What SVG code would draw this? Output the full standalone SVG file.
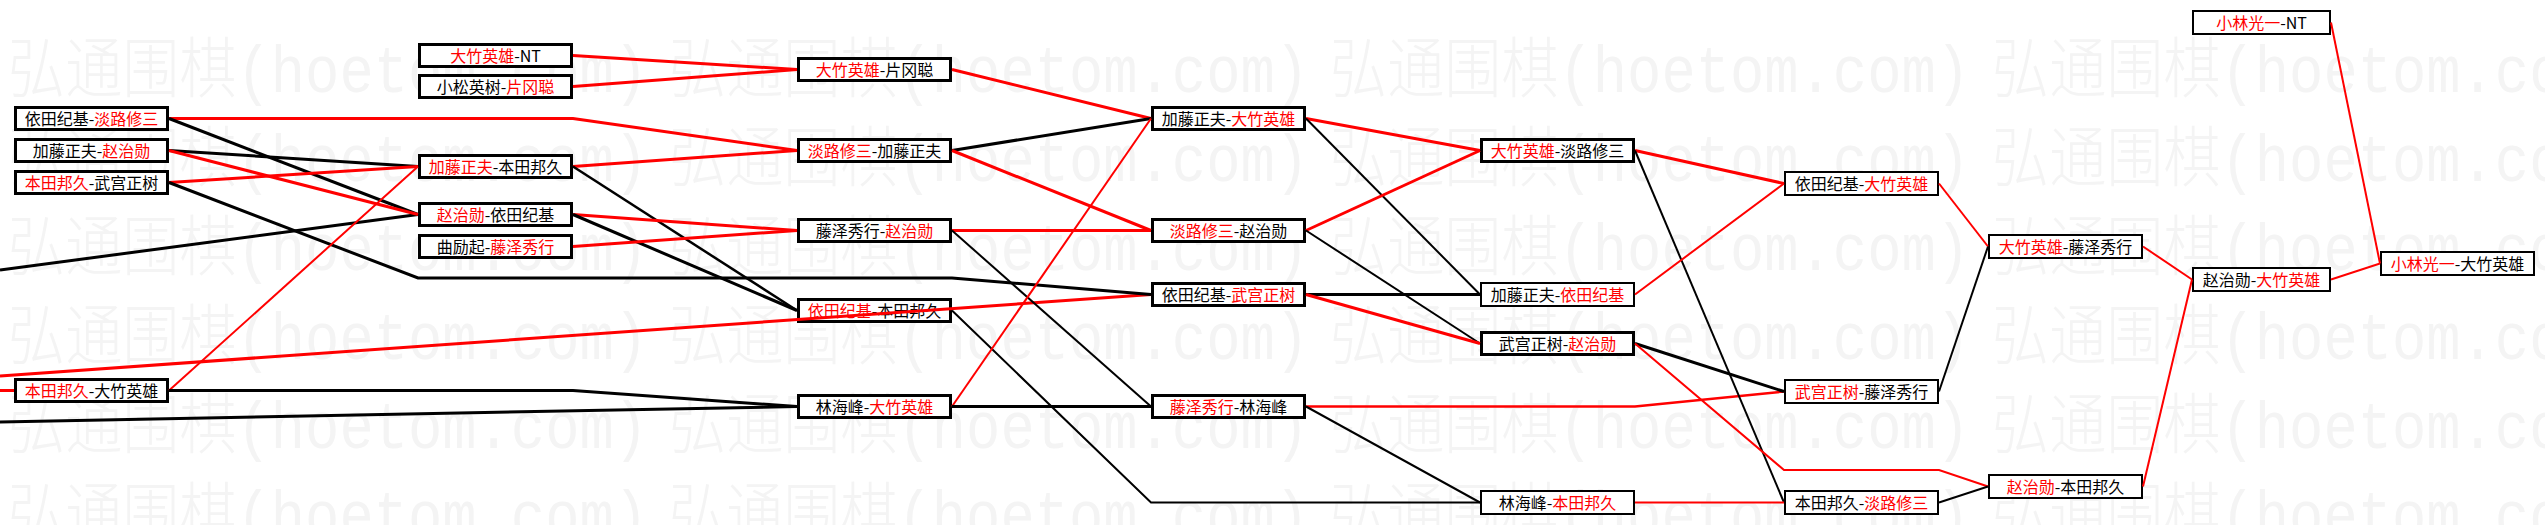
<svg xmlns="http://www.w3.org/2000/svg" width="2545" height="525" viewBox="0 0 2545 525">
<style>
.bg{fill:#fff}
.wm{font-family:"Liberation Mono","Noto Sans CJK SC",monospace;font-size:66px;font-weight:200;fill:#f4f4f4}
.box{fill:#fff;stroke:#000}
.k3{stroke-width:3}
.k2{stroke-width:2}
.lbl{font-family:"Noto Sans CJK SC","Noto Sans CJK JP",sans-serif;font-size:16px;text-anchor:middle;fill:#000}
.r{fill:#f00}
.c{fill:none;stroke-linejoin:miter;stroke-linecap:butt}
.cr{stroke:#f00}
.cb{stroke:#000}
.w3{stroke-width:3}
.w2{stroke-width:2}
.w25{stroke-width:2.5}
</style>
<rect class="bg" x="0" y="0" width="2545" height="525"/>
<g id="watermark">
<text class="wm" x="8" y="92" textLength="640" lengthAdjust="spacingAndGlyphs">弘通围棋(hoetom.com)</text>
<text class="wm" x="669" y="92" textLength="640" lengthAdjust="spacingAndGlyphs">弘通围棋(hoetom.com)</text>
<text class="wm" x="1330" y="92" textLength="640" lengthAdjust="spacingAndGlyphs">弘通围棋(hoetom.com)</text>
<text class="wm" x="1992" y="92" textLength="640" lengthAdjust="spacingAndGlyphs">弘通围棋(hoetom.com)</text>
<text class="wm" x="8" y="181" textLength="640" lengthAdjust="spacingAndGlyphs">弘通围棋(hoetom.com)</text>
<text class="wm" x="669" y="181" textLength="640" lengthAdjust="spacingAndGlyphs">弘通围棋(hoetom.com)</text>
<text class="wm" x="1330" y="181" textLength="640" lengthAdjust="spacingAndGlyphs">弘通围棋(hoetom.com)</text>
<text class="wm" x="1992" y="181" textLength="640" lengthAdjust="spacingAndGlyphs">弘通围棋(hoetom.com)</text>
<text class="wm" x="8" y="270" textLength="640" lengthAdjust="spacingAndGlyphs">弘通围棋(hoetom.com)</text>
<text class="wm" x="669" y="270" textLength="640" lengthAdjust="spacingAndGlyphs">弘通围棋(hoetom.com)</text>
<text class="wm" x="1330" y="270" textLength="640" lengthAdjust="spacingAndGlyphs">弘通围棋(hoetom.com)</text>
<text class="wm" x="1992" y="270" textLength="640" lengthAdjust="spacingAndGlyphs">弘通围棋(hoetom.com)</text>
<text class="wm" x="8" y="359" textLength="640" lengthAdjust="spacingAndGlyphs">弘通围棋(hoetom.com)</text>
<text class="wm" x="669" y="359" textLength="640" lengthAdjust="spacingAndGlyphs">弘通围棋(hoetom.com)</text>
<text class="wm" x="1330" y="359" textLength="640" lengthAdjust="spacingAndGlyphs">弘通围棋(hoetom.com)</text>
<text class="wm" x="1992" y="359" textLength="640" lengthAdjust="spacingAndGlyphs">弘通围棋(hoetom.com)</text>
<text class="wm" x="8" y="448" textLength="640" lengthAdjust="spacingAndGlyphs">弘通围棋(hoetom.com)</text>
<text class="wm" x="669" y="448" textLength="640" lengthAdjust="spacingAndGlyphs">弘通围棋(hoetom.com)</text>
<text class="wm" x="1330" y="448" textLength="640" lengthAdjust="spacingAndGlyphs">弘通围棋(hoetom.com)</text>
<text class="wm" x="1992" y="448" textLength="640" lengthAdjust="spacingAndGlyphs">弘通围棋(hoetom.com)</text>
<text class="wm" x="8" y="537" textLength="640" lengthAdjust="spacingAndGlyphs">弘通围棋(hoetom.com)</text>
<text class="wm" x="669" y="537" textLength="640" lengthAdjust="spacingAndGlyphs">弘通围棋(hoetom.com)</text>
<text class="wm" x="1330" y="537" textLength="640" lengthAdjust="spacingAndGlyphs">弘通围棋(hoetom.com)</text>
<text class="wm" x="1992" y="537" textLength="640" lengthAdjust="spacingAndGlyphs">弘通围棋(hoetom.com)</text>
</g>
<g id="nodes">
<g id="A1"><rect class="box k3" x="15.5" y="107.5" width="152" height="22"/><text class="lbl" x="91.5" y="124.5">依田纪基-<tspan class="r">淡路修三</tspan></text></g>
<g id="A2"><rect class="box k3" x="15.5" y="139.5" width="152" height="22"/><text class="lbl" x="91.5" y="156.5">加藤正夫-<tspan class="r">赵治勋</tspan></text></g>
<g id="A3"><rect class="box k3" x="15.5" y="171.5" width="152" height="22"/><text class="lbl" x="91.5" y="188.5"><tspan class="r">本田邦久</tspan>-武宫正树</text></g>
<g id="A4"><rect class="box k3" x="15.5" y="379.5" width="152" height="22"/><text class="lbl" x="91.5" y="396.5"><tspan class="r">本田邦久</tspan>-大竹英雄</text></g>
<g id="B1"><rect class="box k3" x="419.5" y="44.5" width="152" height="22"/><text class="lbl" x="495.5" y="61.5"><tspan class="r">大竹英雄</tspan>-NT</text></g>
<g id="B2"><rect class="box k3" x="419.5" y="75.5" width="152" height="22"/><text class="lbl" x="495.5" y="92.5">小松英树-<tspan class="r">片冈聪</tspan></text></g>
<g id="B3"><rect class="box k3" x="419.5" y="155.5" width="152" height="22"/><text class="lbl" x="495.5" y="172.5"><tspan class="r">加藤正夫</tspan>-本田邦久</text></g>
<g id="B4"><rect class="box k3" x="419.5" y="203.5" width="152" height="22"/><text class="lbl" x="495.5" y="220.5"><tspan class="r">赵治勋</tspan>-依田纪基</text></g>
<g id="B5"><rect class="box k3" x="419.5" y="235.5" width="152" height="22"/><text class="lbl" x="495.5" y="252.5">曲励起-<tspan class="r">藤泽秀行</tspan></text></g>
<g id="C1"><rect class="box k3" x="798.5" y="58.5" width="152" height="22"/><text class="lbl" x="874.5" y="75.5"><tspan class="r">大竹英雄</tspan>-片冈聪</text></g>
<g id="C2"><rect class="box k3" x="798.5" y="139.5" width="152" height="22"/><text class="lbl" x="874.5" y="156.5"><tspan class="r">淡路修三</tspan>-加藤正夫</text></g>
<g id="C3"><rect class="box k3" x="798.5" y="219.5" width="152" height="22"/><text class="lbl" x="874.5" y="236.5">藤泽秀行-<tspan class="r">赵治勋</tspan></text></g>
<g id="C4"><rect class="box k3" x="798.5" y="299.5" width="152" height="22"/><text class="lbl" x="874.5" y="316.5"><tspan class="r">依田纪基</tspan>-本田邦久</text></g>
<g id="C5"><rect class="box k3" x="798.5" y="395.5" width="152" height="22"/><text class="lbl" x="874.5" y="412.5">林海峰-<tspan class="r">大竹英雄</tspan></text></g>
<g id="D1"><rect class="box k3" x="1152.5" y="107.5" width="152" height="22"/><text class="lbl" x="1228.5" y="124.5">加藤正夫-<tspan class="r">大竹英雄</tspan></text></g>
<g id="D2"><rect class="box k3" x="1152.5" y="219.5" width="152" height="22"/><text class="lbl" x="1228.5" y="236.5"><tspan class="r">淡路修三</tspan>-赵治勋</text></g>
<g id="D3"><rect class="box k3" x="1152.5" y="283.5" width="152" height="22"/><text class="lbl" x="1228.5" y="300.5">依田纪基-<tspan class="r">武宫正树</tspan></text></g>
<g id="D4"><rect class="box k3" x="1152.5" y="395.5" width="152" height="22"/><text class="lbl" x="1228.5" y="412.5"><tspan class="r">藤泽秀行</tspan>-林海峰</text></g>
<g id="E1"><rect class="box k3" x="1481.5" y="139.5" width="152" height="22"/><text class="lbl" x="1557.5" y="156.5"><tspan class="r">大竹英雄</tspan>-淡路修三</text></g>
<g id="E2"><rect class="box k2" x="1481" y="283" width="153" height="23"/><text class="lbl" x="1557.5" y="300.5">加藤正夫-<tspan class="r">依田纪基</tspan></text></g>
<g id="E3"><rect class="box k3" x="1481.5" y="332.5" width="152" height="22"/><text class="lbl" x="1557.5" y="349.5">武宫正树-<tspan class="r">赵治勋</tspan></text></g>
<g id="E4"><rect class="box k2" x="1481" y="491" width="153" height="23"/><text class="lbl" x="1557.5" y="508.5">林海峰-<tspan class="r">本田邦久</tspan></text></g>
<g id="F1"><rect class="box k2" x="1785" y="172" width="153" height="23"/><text class="lbl" x="1861.5" y="189.5">依田纪基-<tspan class="r">大竹英雄</tspan></text></g>
<g id="F2"><rect class="box k2" x="1785" y="380" width="153" height="23"/><text class="lbl" x="1861.5" y="397.5"><tspan class="r">武宫正树</tspan>-藤泽秀行</text></g>
<g id="F3"><rect class="box k2" x="1785" y="491" width="153" height="23"/><text class="lbl" x="1861.5" y="508.5">本田邦久-<tspan class="r">淡路修三</tspan></text></g>
<g id="G1"><rect class="box k2" x="1989" y="235" width="153" height="23"/><text class="lbl" x="2065.5" y="252.5"><tspan class="r">大竹英雄</tspan>-藤泽秀行</text></g>
<g id="G2"><rect class="box k2" x="1989" y="475" width="153" height="23"/><text class="lbl" x="2065.5" y="492.5"><tspan class="r">赵治勋</tspan>-本田邦久</text></g>
<g id="H0"><rect class="box k2" x="2193" y="11" width="137" height="23"/><text class="lbl" x="2261.5" y="28.5"><tspan class="r">小林光一</tspan>-NT</text></g>
<g id="H1"><rect class="box k2" x="2193" y="268" width="137" height="23"/><text class="lbl" x="2261.5" y="285.5">赵治勋-<tspan class="r">大竹英雄</tspan></text></g>
<g id="I1"><rect class="box k2" x="2381" y="252" width="153" height="23"/><text class="lbl" x="2457.5" y="269.5"><tspan class="r">小林光一</tspan>-大竹英雄</text></g>
</g>
<g id="connectors">
<path class="c cb w3" d="M0,270 L418,214.5"/>
<path class="c cr w3" d="M0,376 L1151,294.5"/>
<path class="c cb w3" d="M0,422 L797,406.5"/>
<path class="c cr w3" d="M0,390.5 L14,390.5"/>
<path class="c cr w3" d="M169,118.5 L573,118.5 L797,150.5"/>
<path class="c cb w3" d="M169,118.5 L418,214.5"/>
<path class="c cb w3" d="M169,150.5 L418,166.5"/>
<path class="c cr w3" d="M169,150.5 L418,214.5"/>
<path class="c cr w3" d="M169,182.5 L418,166.5"/>
<path class="c cb w3" d="M169,182.5 L418,278 L952,278 L1151,294.5"/>
<path class="c cr w2" d="M169,390.5 L418,166.5"/>
<path class="c cb w3" d="M169,390.5 L573,390.5 L797,406.5"/>
<path class="c cr w3" d="M573,55.5 L797,69.5"/>
<path class="c cr w3" d="M573,86.5 L797,69.5"/>
<path class="c cr w3" d="M573,166.5 L797,150.5"/>
<path class="c cb w25" d="M573,166.5 L797,310.5"/>
<path class="c cr w3" d="M573,214.5 L797,230.5"/>
<path class="c cb w3" d="M573,214.5 L797,310.5"/>
<path class="c cr w3" d="M573,246.5 L797,230.5"/>
<path class="c cr w3" d="M952,69.5 L1151,118.5"/>
<path class="c cb w3" d="M952,150.5 L1151,118.5"/>
<path class="c cr w3" d="M952,150.5 L1151,230.5"/>
<path class="c cr w3" d="M952,230.5 L1151,230.5"/>
<path class="c cb w2" d="M952,230.5 L1151,406.5"/>
<path class="c cb w2" d="M952,310.5 L1151,502.5 L1480,502.5"/>
<path class="c cr w2" d="M952,406.5 L1151,118.5"/>
<path class="c cb w3" d="M952,406.5 L1151,406.5"/>
<path class="c cr w3" d="M1306,118.5 L1480,150.5"/>
<path class="c cb w2" d="M1306,118.5 L1480,294.5"/>
<path class="c cr w3" d="M1306,230.5 L1480,150.5"/>
<path class="c cb w2" d="M1306,230.5 L1480,343.5"/>
<path class="c cb w3" d="M1306,294.5 L1480,294.5"/>
<path class="c cr w3" d="M1306,294.5 L1480,343.5"/>
<path class="c cr w25" d="M1306,406.5 L1635,406.5 L1784,391.5"/>
<path class="c cb w2" d="M1306,406.5 L1480,502.5"/>
<path class="c cr w3" d="M1635,150.5 L1784,183.5"/>
<path class="c cb w2" d="M1635,150.5 L1784,502.5"/>
<path class="c cr w2" d="M1635,294.5 L1784,183.5"/>
<path class="c cb w3" d="M1635,343.5 L1784,391.5"/>
<path class="c cr w2" d="M1635,343.5 L1784,470 L1939,470 L1988,486.5"/>
<path class="c cr w2" d="M1635,502.5 L1784,502.5"/>
<path class="c cr w2" d="M1939,183.5 L1988,246.5"/>
<path class="c cb w2" d="M1939,391.5 L1988,246.5"/>
<path class="c cb w2" d="M1939,502.5 L1988,486.5"/>
<path class="c cr w2" d="M2143,246.5 L2192,279.5"/>
<path class="c cr w2" d="M2143,486.5 L2192,279.5"/>
<path class="c cr w2" d="M2331,22.5 L2380,263.5"/>
<path class="c cr w2" d="M2331,279.5 L2380,263.5"/>
</g>
</svg>
